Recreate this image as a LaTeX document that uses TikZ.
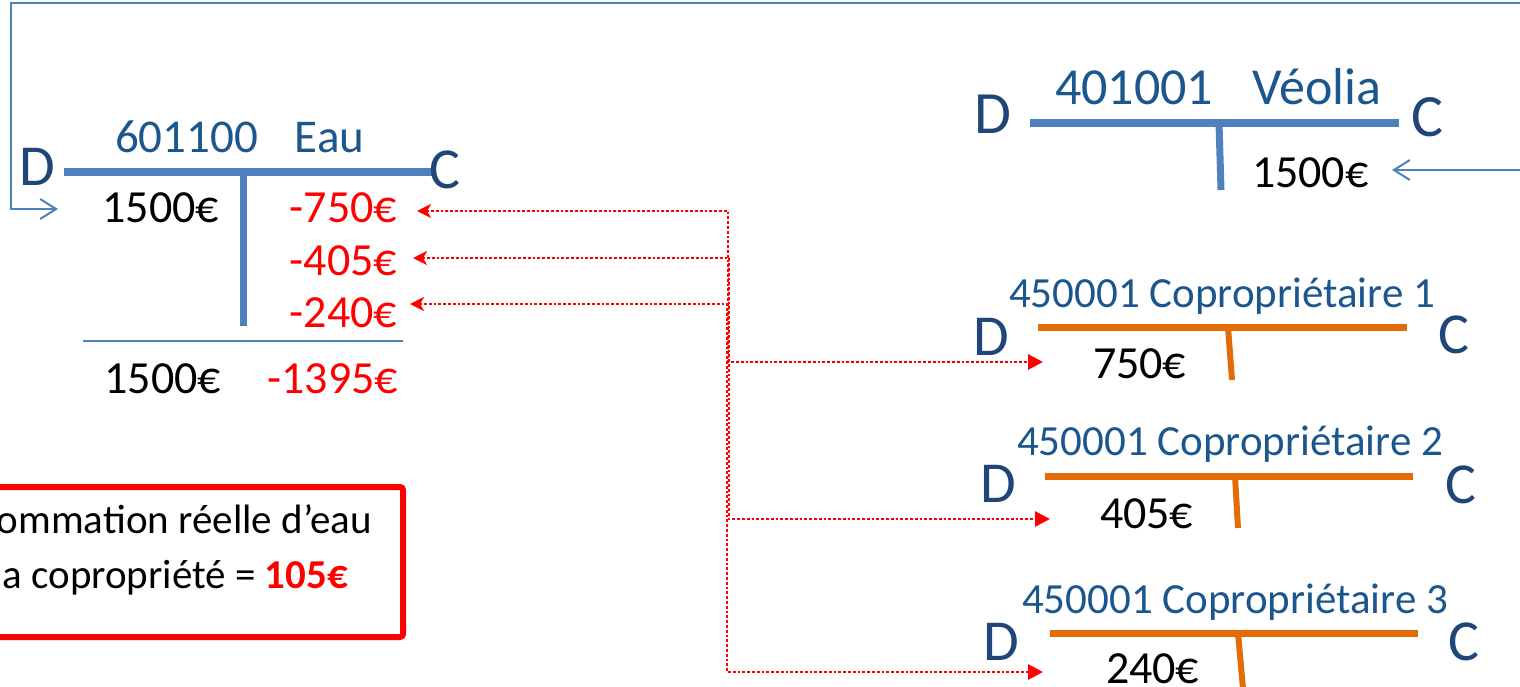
\documentclass[tikz,border=0pt]{standalone}
\usepackage{fontspec}
\setmainfont{Carlito}
\usetikzlibrary{arrows.meta}
\definecolor{tblue}{HTML}{4F81BD}
\definecolor{ttitle}{HTML}{1B568E}
\definecolor{tdc}{HTML}{1F4579}
\definecolor{torange}{HTML}{E36C09}
\definecolor{tred}{HTML}{FF0000}
\newcommand\myfs[1]{\fontsize{#1}{#1}\selectfont}
\tikzset{
  txt/.style={inner sep=0pt, outer sep=0pt},
  ttl/.style={txt, anchor=base west, text=ttitle},
  dcl/.style={txt, anchor=base west, text=tdc, font=\myfs{58pt}},
  amt/.style={txt, anchor=base west, text=black, font=\myfs{46pt}},
  amtr/.style={txt, anchor=base east, text=tred, font=\myfs{46pt}},
  bbar/.style={tblue, line width=7.5pt},
  obar/.style={torange, line width=7pt},
  redlink/.style={tred, line width=2.8pt, dash pattern=on 2.8pt off 2pt,
     {Stealth[length=14pt,width=14pt,inset=4pt]}-{Triangle[length=15pt,width=15pt]}},
  bluelink/.style={tblue, line width=2pt,
     {Straight Barb[length=16pt,width=20pt]}-{Straight Barb[length=16pt,width=20pt]}},
}
\begin{document}
\begin{tikzpicture}[x=1pt,y=-1pt]
\useasboundingbox (0,0) rectangle (1520,686);
\clip (0,0) rectangle (1520,686);

% ---- 601100 Eau
\draw[bbar] (64,172) -- (433,172);
\draw[bbar, line width=7pt] (243,172) -- (243,326);
\draw[tblue, line width=2pt] (83,341) -- (403,341);
\node[ttl, font=\myfs{47pt}] (t1) at (115,152) {601100\hspace{37pt}Eau};
\node[dcl] (d1) at (19,185) {D};
\node[dcl] (c1) at (429,188) {C};
\node[amt, anchor=base east] (a1) at (219,222) {1500€};
\node[amtr] (r1) at (397,222) {-750€};
\node[amtr] (r2) at (397,275) {-405€};
\node[amtr] (r3) at (397,327) {-240€};
\node[amt, anchor=base east] (s1) at (221,393) {1500€};
\node[amtr] (s2) at (398,393) {-1395€};
\coordinate (lt) at (58,209);
\coordinate (rt1) at (417,211);
\coordinate (rt2) at (413,258);
\coordinate (rt3) at (410,304);

% ---- 401001 Veolia
\draw[bbar, line width=8pt] (1030,123) -- (1399,123);
\draw[bbar, line width=7pt] (1219,123) -- (1221,190);
\node[ttl, font=\myfs{52pt}] (t2) at (1055,104) {401001\hspace{39pt}Véolia};
\node[dcl, font=\myfs{60pt}] (d2) at (974,133) {D};
\node[dcl, font=\myfs{60pt}] (c2) at (1411,136) {C};
\node[amt] (v1) at (1252,187) {1500€};
\coordinate (vt) at (1392,170);

% ---- Copropriétaire 1
\draw[obar] (1038,327) -- (1407,327);
\draw[obar, line width=6pt] (1228,327) -- (1232,380);
\node[ttl, font=\myfs{43pt}] (t3) at (1009,307) {450001 Copropriétaire 1};
\node[dcl] (d3) at (973,355) {D};
\node[dcl] (c3) at (1438,353) {C};
\node[amt] (p1) at (1093,378) {750€};
\coordinate (ct1) at (1043,362);

% ---- Copropriétaire 2
\draw[obar] (1045,476) -- (1413,476);
\draw[obar, line width=6pt] (1235,476) -- (1238,528);
\node[ttl, font=\myfs{43pt}] (t4) at (1017,455) {450001 Copropriétaire 2};
\node[dcl] (d4) at (980,502) {D};
\node[dcl] (c4) at (1445,503) {C};
\node[amt] (p2) at (1100,528) {405€};
\coordinate (ct2) at (1050,519);

% ---- Copropriétaire 3
\draw[obar] (1050,633) -- (1418,633);
\draw[obar, line width=6pt] (1238,633) -- (1244,700);
\node[ttl, font=\myfs{43pt}] (t5) at (1022,613) {450001 Copropriétaire 3};
\node[dcl] (d5) at (983,660) {D};
\node[dcl] (c5) at (1448,660) {C};
\node[amt] (p3) at (1106,683) {240€};
\coordinate (ct3) at (1043,672);

% ---- connectors
\draw[bluelink] (vt) -- (1530,170) -- (1530,3) -- (11,3) -- (11,209) -- (lt);
\draw[redlink] (rt1) -- (728,211) |- (ct1);
\draw[redlink] (rt2) -- (729,258) |- (ct2);
\draw[redlink] (rt3) -- (727,304) |- (ct3);

% ---- note box
\draw[tred, line width=6pt, rounded corners=3pt] (-20,487) rectangle (403,637);
\node[txt, anchor=base east, font=\myfs{41pt}] (n1) at (372,533) {ommation réelle d’eau};
\node[txt, anchor=base east, font=\myfs{41pt}] (n2) at (348,588) {a copropriété = \textcolor{tred}{\bfseries 105€}};
\end{tikzpicture}
\end{document}
